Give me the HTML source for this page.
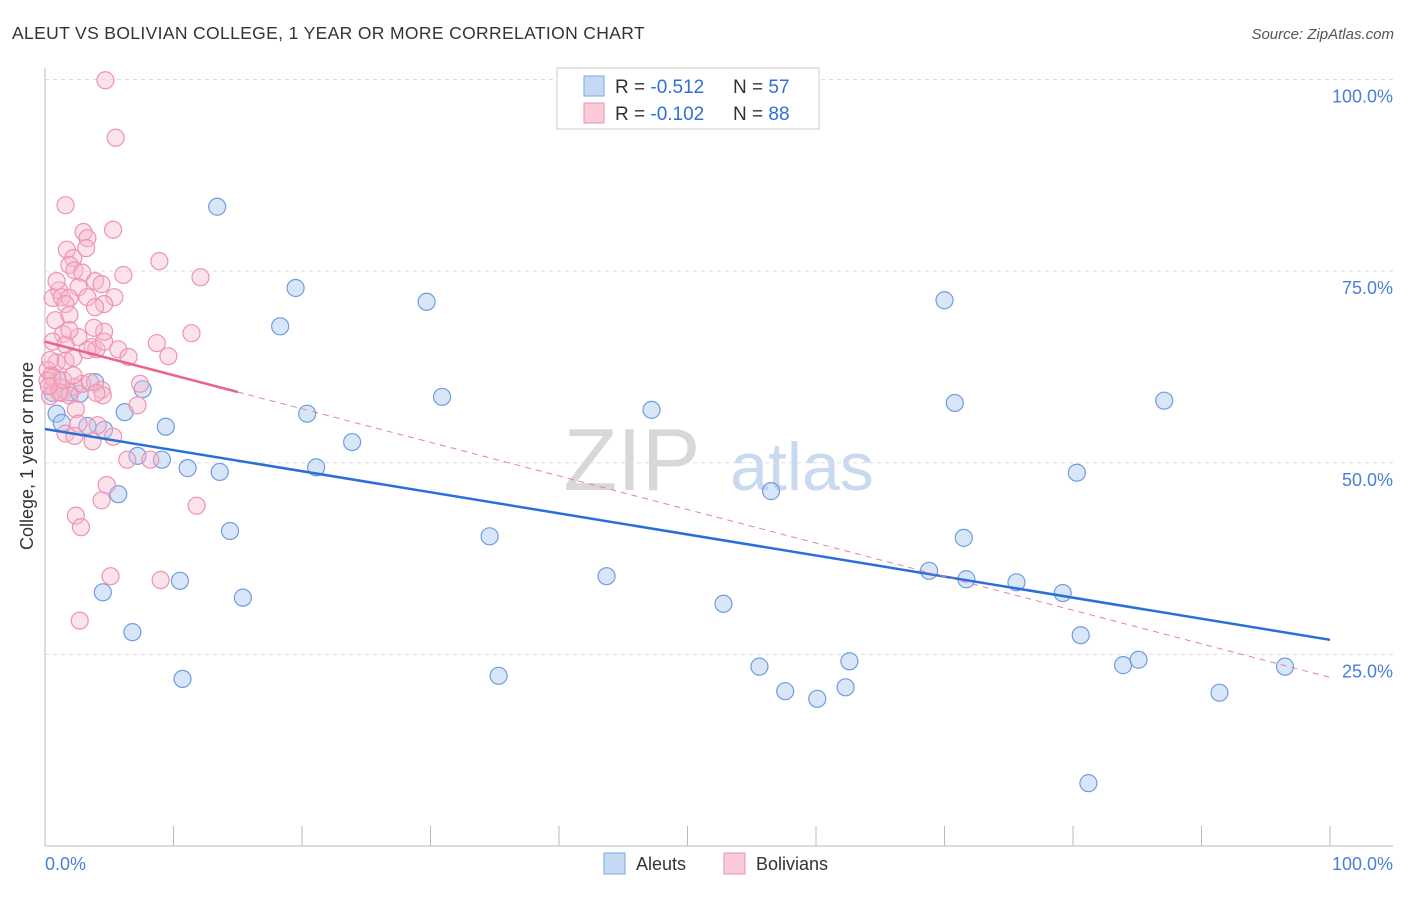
<!DOCTYPE html>
<html><head><meta charset="utf-8">
<style>
body{margin:0;background:#fff;font-family:"Liberation Sans",sans-serif;}
svg text{font-family:"Liberation Sans",sans-serif;}
</style></head>
<body>
<svg id="chart" width="1406" height="892" viewBox="0 0 1406 892">
<text x="12" y="39" font-size="17.5" fill="#333" letter-spacing="0.35">ALEUT VS BOLIVIAN COLLEGE, 1 YEAR OR MORE CORRELATION CHART</text>
<text x="1394" y="39" font-size="15" fill="#555" text-anchor="end" font-style="italic">Source: ZipAtlas.com</text>
<g>
<text x="632" y="490" font-size="88" fill="#d8d8d8" text-anchor="middle" font-family="Liberation Serif, serif">ZIP</text>
<text x="802" y="490" font-size="68" fill="#c9d9f0" text-anchor="middle">atlas</text>
</g>
<g id="grid"></g>
<g id="axes"></g>
<g id="marks"></g>
<text transform="translate(33,456) rotate(-90)" font-size="18" fill="#333" text-anchor="middle">College, 1 year or more</text>
<g>
<rect x="557" y="68" width="262" height="61" fill="#fff" stroke="#ccc"/>
<rect x="584" y="76" width="20" height="20" fill="#c5d9f5" stroke="#7aa6e6"/>
<text x="615" y="93" font-size="19" fill="#333">R = <tspan fill="#2f6fd6">-0.512</tspan></text>
<text x="733" y="93" font-size="19" fill="#333">N = <tspan fill="#2f6fd6">57</tspan></text>
<rect x="584" y="103" width="20" height="20" fill="#f9cad8" stroke="#ee93b0"/>
<text x="615" y="120" font-size="19" fill="#333">R = <tspan fill="#2f6fd6">-0.102</tspan></text>
<text x="733" y="120" font-size="19" fill="#333">N = <tspan fill="#2f6fd6">88</tspan></text>
</g>
<g>
<rect x="604" y="853" width="21" height="21" fill="#c5d9f5" stroke="#7aa6e6"/>
<text x="636" y="870" font-size="18" fill="#333">Aleuts</text>
<rect x="724" y="853" width="21" height="21" fill="#f9cad8" stroke="#ee93b0"/>
<text x="756" y="870" font-size="18" fill="#333">Bolivians</text>
</g>
</svg>
<script>
const yTicks=[25,50,75,100];
const yTickLabels=["25.0%","50.0%","75.0%","100.0%"];
const aleutX=[0.9,1.3,1.9,2.7,3.9,3.3,4.6,4.5,5.7,6.2,6.8,7.6,7.2,9.4,9.1,10.5,10.7,11.1,13.4,13.6,14.4,15.4,18.3,19.5,20.4,21.1,23.9,29.7,30.9,34.6,35.3,43.7,47.2,52.8,55.6,56.5,57.6,60.1,62.3,62.6,68.8,70.0,70.8,71.5,71.7,75.6,79.2,80.3,80.6,81.2,83.9,85.1,87.1,91.4,96.5,0.6,1.0];
const aleutY=[56.4,55.2,59.2,59.0,60.5,54.8,54.3,33.1,45.9,56.6,27.9,59.6,50.9,54.7,50.4,34.6,21.8,49.3,83.4,48.8,41.1,32.4,67.8,72.8,56.4,49.4,52.7,71.0,58.6,40.4,22.2,35.2,56.9,31.6,23.4,46.3,20.2,19.2,20.7,24.1,35.9,71.2,57.8,40.2,34.8,34.4,33.0,48.7,27.5,8.2,23.6,24.3,58.1,20.0,23.4,59.1,60.8];
const bolX=[4.7,5.5,1.6,5.3,3.0,3.3,3.2,1.7,2.2,1.9,2.3,2.9,3.9,2.6,1.1,0.6,1.3,1.9,1.6,3.3,5.4,4.6,3.9,0.8,1.4,2.6,0.6,1.6,3.7,4.0,4.6,5.7,6.5,0.9,1.6,2.2,0.2,0.5,0.2,0.6,1.2,2.3,2.9,3.5,4.4,0.4,1.3,1.9,0.6,4.5,7.4,7.2,2.4,2.6,1.6,2.3,3.7,4.1,5.3,6.4,8.2,4.8,4.4,2.4,2.8,5.1,2.7,8.9,12.1,11.4,8.7,9.6,9.0,11.8,6.1,4.4,4.6,1.1,0.4,0.3,3.3,1.9,1.4,4.0,2.2,0.9,1.9,3.8];
const bolY=[99.9,92.4,83.6,80.4,80.1,79.3,78.0,77.8,76.7,75.8,75.1,74.8,73.7,72.9,72.5,71.5,71.6,71.5,70.7,71.6,71.6,70.7,70.3,68.6,66.8,66.4,65.8,65.4,65.1,64.8,65.8,64.8,63.8,63.1,63.3,63.7,62.1,61.4,60.7,60.0,59.8,59.9,60.3,60.5,59.5,58.7,59.1,58.8,61.1,58.8,60.3,57.5,57.0,55.1,53.8,53.5,52.8,54.9,53.4,50.4,50.4,47.1,45.1,43.1,41.6,35.2,29.4,76.3,74.2,66.9,65.6,63.9,34.7,44.4,74.5,73.3,67.1,59.2,63.4,60.0,64.7,69.3,60.8,59.1,61.4,73.7,67.3,67.6];
const aleutTrend=[54.4,26.9];
const bolTrend=[65.8,22.0];
const bolSolidEnd=15;

const NS="http://www.w3.org/2000/svg";
const X0=45,X1=1330,Y0=846,Y100=79.5;
function sx(v){return X0+(X1-X0)*v/100;}
function sy(v){return Y0-(Y0-Y100)*v/100;}
function mk(tag,attrs,parent){const e=document.createElementNS(NS,tag);for(const k in attrs)e.setAttribute(k,attrs[k]);parent.appendChild(e);return e;}
const grid=document.getElementById('grid'),axes=document.getElementById('axes'),marks=document.getElementById('marks');
yTicks.forEach((t,i)=>{
  const l=mk('line',{x1:X0,x2:1393,y1:sy(t),y2:sy(t),stroke:'#ddd','stroke-dasharray':'4,4'},grid);
  
  
  const tx=mk('text',{x:1393,y:sy(t)+23,'font-size':18,fill:'#4a7fd8','text-anchor':'end'},grid);
  tx.textContent=yTickLabels[i];
  
  
});
const al=mk('line',{x1:X0,x2:X0,y1:68,y2:Y0,stroke:'#bbb'},axes);


const bl=mk('line',{x1:X0,x2:1393,y1:Y0,y2:Y0,stroke:'#bbb'},axes);


for(let i=0;i<=10;i++){
  const t=mk('line',{x1:sx(i*10),x2:sx(i*10),y1:826,y2:Y0,stroke:'#bbb'},axes);
  
  
}
[[0,"0.0%","start",X0],[100,"100.0%","end",1393]].forEach(a=>{
  const t=mk('text',{x:a[3],y:870,'font-size':18,fill:'#4a7fd8','text-anchor':a[2]},axes);
  t.textContent=a[1];
  
  
});
aleutX.forEach((x,i)=>{
  const c=mk('circle',{cx:sx(x),cy:sy(aleutY[i]),r:8.5,fill:'rgba(170,200,240,0.45)',stroke:'#6e9de0','stroke-width':1.2},marks);
  
  
});
bolX.forEach((x,i)=>{
  const c=mk('circle',{cx:sx(x),cy:sy(bolY[i]),r:8.5,fill:'rgba(248,185,205,0.4)',stroke:'#ee93b0','stroke-width':1.2},marks);
  
  
});
const bt=mk('line',{x1:sx(0),y1:sy(aleutTrend[0]),x2:sx(100),y2:sy(aleutTrend[1]),stroke:'#2a6fd8','stroke-width':2.5},marks);


const pm=bolTrend[0]+(bolTrend[1]-bolTrend[0])*bolSolidEnd/100;
const pd=mk('line',{x1:sx(bolSolidEnd),y1:sy(pm),x2:sx(100),y2:sy(bolTrend[1]),stroke:'#e8809f','stroke-width':1,'stroke-dasharray':'6,5'},marks);


const ps=mk('line',{x1:sx(0),y1:sy(bolTrend[0]),x2:sx(bolSolidEnd),y2:sy(pm),stroke:'#e8648c','stroke-width':2.5},marks);


</script>
</body></html>
